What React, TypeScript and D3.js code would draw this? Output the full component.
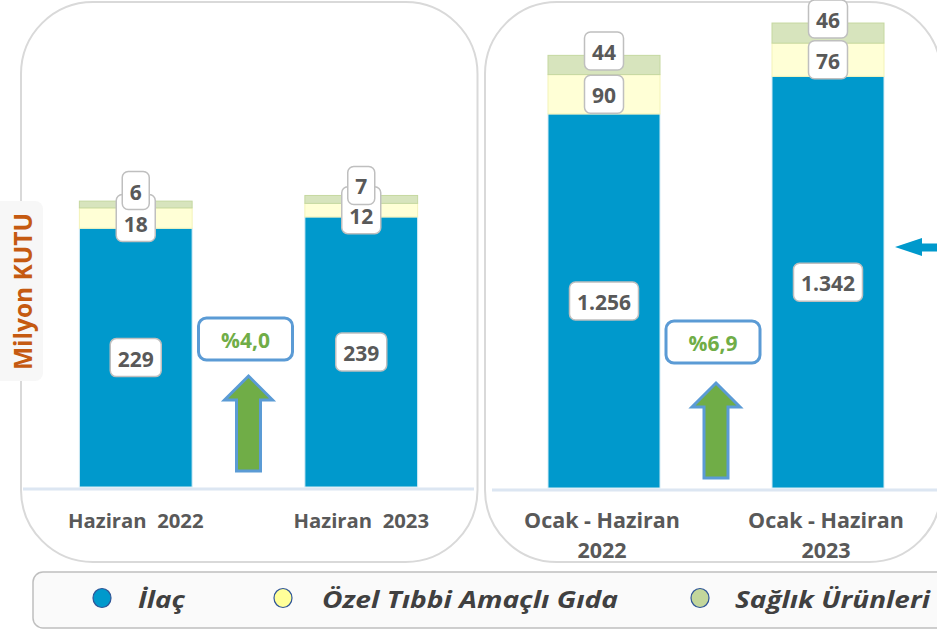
import React from "react";
import * as d3 from "d3";

const W = 937;
const H = 629;

// Left panel: monthly (June)
const monthCategories = ["Haziran  2022", "Haziran  2023"];
const monthIlac = [229, 239];
const monthOzel = [18, 12];
const monthSaglik = [6, 7];
const monthChange = "%4,0";

// Right panel: January - June cumulative
const cumCategories = [["Ocak - Haziran", "2022"], ["Ocak - Haziran", "2023"]];
const cumIlac = [1256, 1342];
const cumOzel = [90, 76];
const cumSaglik = [44, 46];
const cumChange = "%6,9";

const seriesNames = ["İlaç", "Özel Tıbbi Amaçlı Gıda", "Sağlık Ürünleri"];
const seriesFill = ["#0099cc", "#ffffd6", "#d7e4bd"];
const seriesStroke = ["#d6ecf5", "#f3f3b8", "#c5d8a0"];
const legendFill = ["#0099cc", "#ffff99", "#c3d69b"];

const fmt = (v: number) => (v >= 1000 ? d3.format(",")(v).replace(/,/g, ".") : String(v));

const LABEL_FONT = 21;
const labelWidth = (s: string) => {
  let w = 0;
  for (const c of s) w += c === "." ? 6 : 12;
  return w + 15;
};

type PanelProps = {
  cats: string[][];
  ilac: number[];
  ozel: number[];
  saglik: number[];
  change: string;
  xRange: [number, number];
  yDomain: [number, number];
  yRange: [number, number];
  arrowTip: number;
  arrowBottom: number;
  boxTop: number;
  catFont: number;
};

function Panel(p: PanelProps) {
  const keys = p.cats.map((c) => c.join(" "));
  const x = d3.scaleBand<string>().domain(keys).range(p.xRange).paddingInner(0.5).paddingOuter(0.25);
  const y = d3.scaleLinear().domain(p.yDomain).range(p.yRange);
  const rows = keys.map((k, i) => ({ key: k, ilac: p.ilac[i], ozel: p.ozel[i], saglik: p.saglik[i] }));
  const stack = d3.stack<any>().keys(["ilac", "ozel", "saglik"]);
  const series = stack(rows);
  const base = p.yDomain[0];
  const bw = x.bandwidth();

  const labels: { x: number; y: number; h: number; dy: number; t: string }[] = [];
  rows.forEach((r, i) => {
    series.forEach((s, si) => {
      const d = s[i];
      const y0 = y(Math.max(d[0], base));
      const y1 = y(d[1]);
      let cy = (y0 + y1) / 2;
      let h = 38;
      let dy = 1;
      if (si === series.length - 1) cy -= 14;
      else if (y0 - y1 < 25) {
        h = 47;
        dy = 5.5;
      }
      labels.push({ x: (x(r.key) as number) + bw / 2, y: cy, h, dy, t: fmt(d[1] - d[0]) });
    });
  });

  const c0 = (x(keys[0]) as number) + bw / 2;
  const c1 = (x(keys[1]) as number) + bw / 2;
  const mid = (c0 + c1) / 2;
  const aw = 24;
  const hw = 48;
  const headH = 24;
  const arrow = `M${mid},${p.arrowTip} L${mid + hw / 2},${p.arrowTip + headH} L${mid + aw / 2},${p.arrowTip + headH} L${mid + aw / 2},${p.arrowBottom} L${mid - aw / 2},${p.arrowBottom} L${mid - aw / 2},${p.arrowTip + headH} L${mid - hw / 2},${p.arrowTip + headH} Z`;
  const bmid = mid - 3;

  return (
    <g>
      <line x1={p.xRange[0]} x2={p.xRange[1]} y1={y(base) + 2} y2={y(base) + 2} stroke="#dce6f2" strokeWidth={3} />
      {series.map((s, si) =>
        s.map((d, i) => (
          <rect
            key={si + "-" + i}
            x={x(rows[i].key)}
            width={bw}
            y={y(d[1])}
            height={y(Math.max(d[0], base)) - y(d[1])}
            fill={seriesFill[si]}
            stroke={seriesStroke[si]}
            strokeWidth={1}
          />
        ))
      )}
      {labels.map((l, i) => {
        const w = labelWidth(l.t);
        return (
          <g key={i}>
            <rect x={l.x - w / 2} y={l.y - l.h / 2} width={w} height={l.h} rx={6} fill="#ffffff" stroke="#bfbfbf" strokeWidth={1.5} />
            <text x={l.x} y={l.y + l.dy} textAnchor="middle" dominantBaseline="central" fontSize={LABEL_FONT} fontWeight="bold" fill="#595959">
              {l.t}
            </text>
          </g>
        );
      })}
      <rect x={bmid - 47} y={p.boxTop} width={94} height={42} rx={8} fill="#ffffff" stroke="#5b9bd5" strokeWidth={3} />
      <text x={bmid} y={p.boxTop + 22} textAnchor="middle" dominantBaseline="central" fontSize={21} fontWeight="bold" fill="#70ad47">
        {p.change}
      </text>
      <path d={arrow} fill="#70ad47" stroke="#5b9bd5" strokeWidth={3} />
      {p.cats.map((c, i) => (
        <text key={i} x={(x(keys[i]) as number) + bw / 2} textAnchor="middle" fontSize={p.catFont} fontWeight="bold" fill="#595959">
          {c.map((line, j) => (
            <tspan key={j} x={(x(keys[i]) as number) + bw / 2 - (c.length > 1 ? 2 : 0)} y={528 + j * 30} style={{ whiteSpace: "pre" }}>
              {line}
            </tspan>
          ))}
        </text>
      ))}
    </g>
  );
}

export default function App() {
  const legendX = [102, 283, 700];
  const legendTextX = [138, 322, 735];
  const legendTextW = [47, 296, 195];
  return (
    <svg
      width={W}
      height={H}
      style={{ position: "absolute", left: 0, top: 0, background: "#ffffff", fontFamily: "'Open Sans', 'Noto Sans', sans-serif" }}
    >
      {/* panel frames */}
      <rect x={21} y={2} width={456.5} height={560} rx={72} fill="#ffffff" stroke="#d9d9d9" strokeWidth={2} />
      <rect x={485} y={2} width={456} height={560} rx={72} fill="#ffffff" stroke="#d9d9d9" strokeWidth={2} />

      <Panel
        cats={monthCategories.map((c) => [c])}
        ilac={monthIlac}
        ozel={monthOzel}
        saglik={monthSaglik}
        change={monthChange}
        xRange={[23, 474]}
        yDomain={[0, 300]}
        yRange={[487, 487 - 300 * 1.13]}
        arrowTip={376}
        arrowBottom={471}
        boxTop={318}
        catFont={20.3}
      />
      <Panel
        cats={cumCategories}
        ilac={cumIlac}
        ozel={cumOzel}
        saglik={cumSaglik}
        change={cumChange}
        xRange={[492, 940]}
        yDomain={[400, 1500]}
        yRange={[488, 488 - 1100 * 0.437]}
        arrowTip={383}
        arrowBottom={478}
        boxTop={321}
        catFont={21.5}
      />

      {/* y axis title */}
      <rect x={-8} y={201} width={51} height={180} rx={8} fill="#f7f7f7" />
      <text
        transform="translate(22,291.5) rotate(-90)"
        textAnchor="middle"
        dominantBaseline="central"
        fontSize={24.5}
        fontWeight="bold"
        fill="#c55a11"
      >
        Milyon KUTU
      </text>

      {/* blue pointer arrow at right edge */}
      <path d="M895,247 L922,238 L922,243.5 L940,243.5 L940,251.5 L922,251.5 L922,256 Z" fill="#0099cc" />

      {/* legend */}
      <rect x={33} y={572} width={920} height={56} rx={10} fill="#fafafa" stroke="#bfbfbf" strokeWidth={1.5} />
      {seriesNames.map((n, i) => (
        <g key={n}>
          <ellipse cx={legendX[i]} cy={598} rx={9} ry={9.5} fill={legendFill[i]} stroke="#2f5597" strokeWidth={1.2} />
          <text
            x={legendTextX[i]}
            y={608}
            fontSize={23}
            fontWeight="bold"
            fontStyle="italic"
            fill="#404040"
            textLength={legendTextW[i]}
            lengthAdjust="spacingAndGlyphs"
          >
            {n}
          </text>
        </g>
      ))}
    </svg>
  );
}
